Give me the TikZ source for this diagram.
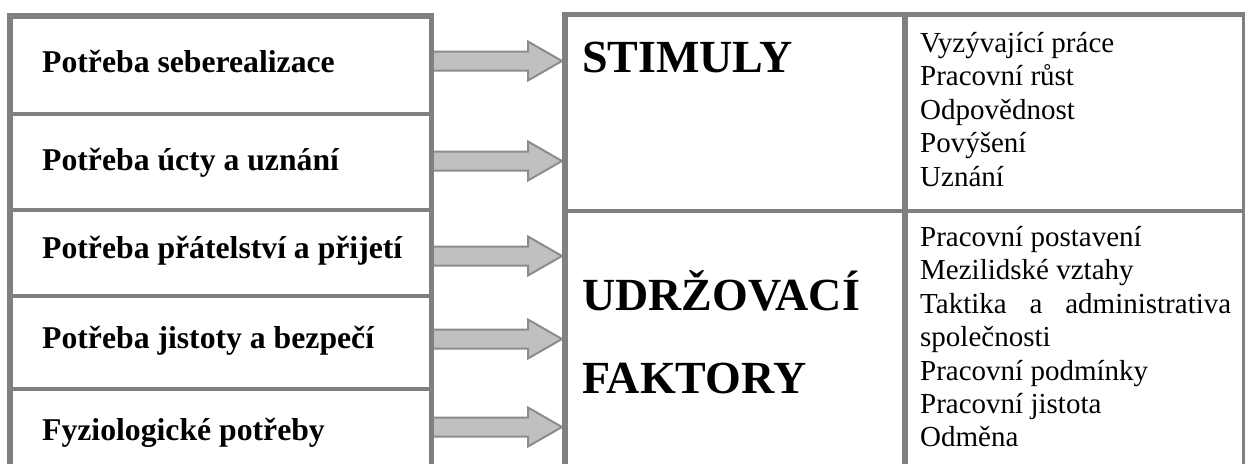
\documentclass[tikz,border=0pt]{standalone}
\usepackage{fontspec}
\setmainfont{Liberation Serif}
\newfontfamily\timesfont{Liberation Serif}
\usetikzlibrary{calc}

\definecolor{rulegray}{RGB}{128,128,128}
\definecolor{arrowfill}{RGB}{192,192,192}
\definecolor{arrowedge}{RGB}{140,140,140}

\tikzset{
  need/.style={anchor=base west, inner sep=0pt, font=\timesfont\fontsize{31.7}{38}\selectfont\bfseries},
  group/.style={anchor=base west, inner sep=0pt, font=\timesfont\fontsize{46}{55}\selectfont\bfseries},
  item/.style={anchor=base west, inner sep=0pt, font=\timesfont\fontsize{29}{33}\selectfont},
  outerrule/.style={draw=rulegray, line width=5.5pt},
  innerrule/.style={draw=rulegray, line width=4pt},
  fatarrow/.style={draw=arrowedge, fill=arrowfill, line width=2pt, line join=miter},
}

% block arrow from a point on one table to a point on the other
\newcommand\blockarrow[2]{%
  \path[fatarrow] ($(#1)+(0,-9.5)$) -- ($(#2)+(-34,-9.5)$) -- ($(#2)+(-34,-19.5)$)
    -- (#2) -- ($(#2)+(-34,19.5)$) -- ($(#2)+(-34,9.5)$) -- ($(#1)+(0,9.5)$) -- cycle;}

\begin{document}
\begin{tikzpicture}[x=1pt, y=-1pt]
\useasboundingbox (0,0) rectangle (1245,464);

% ---- needs (left table) ----
\node[need] (n1) at (42,72)  {Potřeba seberealizace};
\node[need] (n2) at (42,170) {Potřeba úcty a uznání};
\node[need] (n3) at (42,258) {Potřeba přátelství a přijetí};
\node[need] (n4) at (42,348) {Potřeba jistoty a bezpečí};
\node[need] (n5) at (42,440) {Fyziologické potřeby};

% ---- arrows between the tables ----
\foreach \i/\y in {1/61, 2/161, 3/256, 4/339, 5/427}{
  \coordinate (from\i) at (431.5,\y);
  \coordinate (to\i) at (562,\y);
  \blockarrow{from\i}{to\i}
}

% ---- left table rules ----
\draw[outerrule] (10,464) -- (10,16) -- (431.5,16) -- (431.5,464);
\foreach \y in {114,210,296,389}
  \draw[innerrule] (10,\y) -- (431.5,\y);

% ---- right table rules ----
\draw[outerrule] (565,464) -- (565,14.5) -- (1245,14.5);
\draw[draw=rulegray, line width=3pt] (1243.5,14.5) -- (1243.5,464);
\draw[draw=rulegray, line width=6pt] (905,14.5) -- (905,464);
\draw[draw=rulegray, line width=3.5pt] (565,211) -- (1243.5,211);

% ---- factor groups ----
\node[group] (stim) at (582,72) {STIMULY};
\node[group] (udr)  at (582,310) {UDRŽOVACÍ};
\node[group] (fak)  at (582,393) {FAKTORY};

% ---- motivators ----
\foreach \t [count=\i] in {Vyzývající práce, Pracovní růst, Odpovědnost, Povýšení, Uznání}
  \node[item] (m\i) at (920,{52+33.5*(\i-1)}) {\t};

% ---- hygiene factors ----
\foreach \t [count=\i] in {Pracovní postavení, Mezilidské vztahy,
    {\makebox[311pt][s]{Taktika a administrativa}}, společnosti,
    Pracovní podmínky, Pracovní jistota, Odměna}
  \node[item] (h\i) at (920,{246.5+33.4*(\i-1)}) {\t};
\end{tikzpicture}
\end{document}
